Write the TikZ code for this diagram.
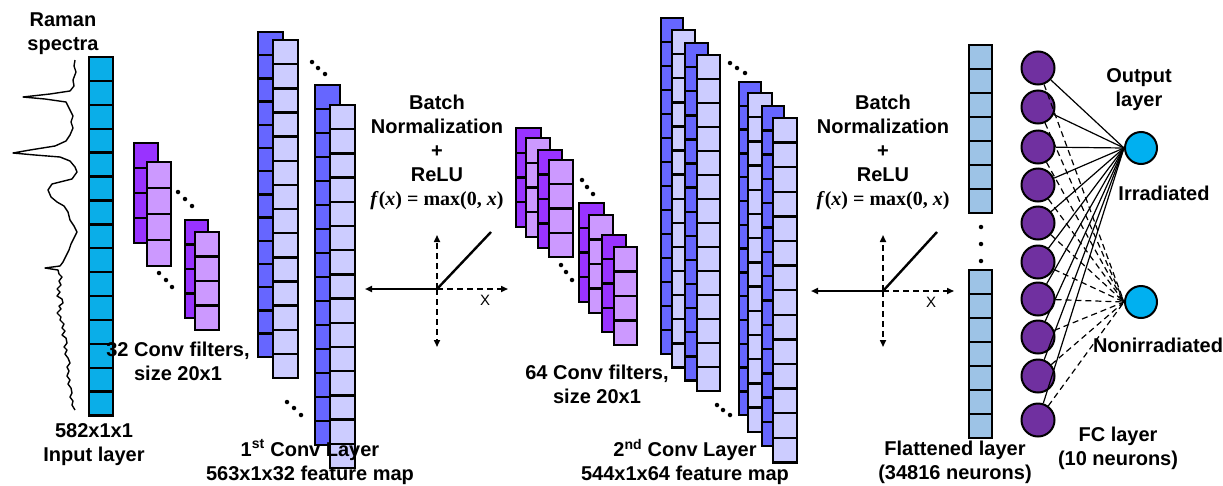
\documentclass[tikz,border=0pt]{standalone}
\usepackage{fontspec}
\setmainfont{Liberation Sans}
\newfontfamily\serifb{Liberation Serif}
\usetikzlibrary{arrows.meta}
\definecolor{inblue}{RGB}{10,174,232}
\definecolor{dpurp}{RGB}{153,51,255}
\definecolor{lpurp}{RGB}{204,153,255}
\definecolor{dblue}{RGB}{102,102,255}
\definecolor{lblue}{RGB}{204,204,255}
\definecolor{flatc}{RGB}{157,195,230}
\definecolor{fcpurp}{RGB}{112,48,160}
\definecolor{outblue}{RGB}{0,176,240}
\tikzset{
  cellline/.style={line width=2.4pt, line join=miter},
  txt/.style={font=\fontsize{20}{24}\selectfont\bfseries, align=center, inner sep=0pt},
  fc/.style={circle, draw=black, line width=2pt, fill=fcpurp, minimum size=33pt, inner sep=0pt},
  outn/.style={circle, draw=black, line width=2pt, fill=outblue, minimum size=32pt, inner sep=0pt},
  conn/.style={line width=1.2pt},
  dashconn/.style={line width=1.2pt, dash pattern=on 6pt off 4pt},
  axisline/.style={line width=1.6pt, dash pattern=on 6pt off 4pt, -{Triangle[length=7pt,width=6pt]}},
  solidax/.style={line width=2.4pt, -{Triangle[length=7pt,width=6pt]}},
  reluline/.style={line width=2.4pt},
  blackdot/.style={fill=black, circle, inner sep=0pt, minimum size=4.5pt},
  xlab/.style={font=\fontsize{15}{18}\selectfont, inner sep=0pt},
  formula/.style={font=\fontsize{20}{22}\selectfont\serifb\bfseries, inner sep=0pt},
}
\newcommand{\cellcol}[6]{%
  \fill[#6] (#1,#2) rectangle ({#1+#3},{#2+#4*#5});
  \pgfmathtruncatemacro{\cclast}{#5-1}
  \foreach \k in {1,...,\cclast}{\draw[cellline] (#1,{#2+\k*#4}) -- ({#1+#3},{#2+\k*#4});}
  \draw[cellline] (#1,#2) rectangle ({#1+#3},{#2+#4*#5});
}
\begin{document}
\begin{tikzpicture}[x=1pt,y=-1pt]
\useasboundingbox (0,0) rectangle (1223,485);
\fill[white] (0,0) rectangle (1223,485);

% ReLU graph A
\coordinate (oA) at (437,289);
\coordinate (tA) at (437,235);
\coordinate (bA) at (437,347);
\coordinate (lA) at (365,289);
\coordinate (rA) at (508,289);
\coordinate (dA) at (491,232);
\draw[axisline] (oA) -- (tA);
\draw[axisline] (oA) -- (bA);
\draw[axisline] (oA) -- (rA);
\draw[solidax] (oA) -- (lA);
\draw[reluline] (oA) -- (dA);
\node[xlab] (xA) at (485,300) {X};
\node[txt] (bnA) at (437,138) {Batch\\Normalization\\+\\ReLU};
\node[formula] (fA) at (437,201) {\textit{f}(\textit{x}) = max(0, \textit{x})};

% ReLU graph B
\coordinate (oB) at (883,291);
\coordinate (tB) at (883,235);
\coordinate (bB) at (883,347);
\coordinate (lB) at (811,291);
\coordinate (rB) at (954,291);
\coordinate (dB) at (937,232);
\draw[axisline] (oB) -- (tB);
\draw[axisline] (oB) -- (bB);
\draw[axisline] (oB) -- (rB);
\draw[solidax] (oB) -- (lB);
\draw[reluline] (oB) -- (dB);
\node[xlab] (xB) at (931,302) {X};
\node[txt] (bnB) at (883,138) {Batch\\Normalization\\+\\ReLU};
\node[formula] (fB) at (883,201) {\textit{f}(\textit{x}) = max(0, \textit{x})};

% Raman spectrum
\draw[line width=1.4pt, line join=round] (75,60) -- (74,66) -- (76,72) -- (73,80) -- (74,86) -- (70,91) -- (50,94) -- (23,97) -- (45,99) -- (66,102) -- (69,108) -- (73,116) -- (71,122) -- (73,128) -- (70,135) -- (66,141) -- (55,146) -- (30,150) -- (13,153) -- (35,155) -- (60,157) -- (70,161) -- (75,167) -- (77,172) -- (72,179) -- (60,182) -- (52,184) -- (48,190) -- (51,197) -- (57,202) -- (64,206) -- (68,212) -- (70,220) -- (74,226) -- (77,232) -- (74,238) -- (71,244) -- (69,250) -- (66,256) -- (63,262) -- (60,266) -- (45,268) -- (58,270) -- (59,274) -- (62,277) -- (59,281) -- (61,285) -- (57,289) -- (60,292) -- (57,296) -- (62,299) -- (63,303) -- (59,306) -- (61,309) -- (57,313) -- (61,317) -- (60,320) -- (64,324) -- (62,328) -- (65,331) -- (62,335) -- (66,338) -- (67,343) -- (64,347) -- (67,350) -- (65,354) -- (68,358) -- (70,363) -- (67,367) -- (69,371) -- (67,376) -- (70,380) -- (68,384) -- (71,388) -- (72,393) -- (70,397) -- (73,401) -- (72,405) -- (75,410);

% Input layer
\cellcol{89}{57}{24}{23.9}{15}{inblue}

% 32 conv filters
\cellcol{134}{143}{24}{25}{4}{dpurp}
\cellcol{147}{162}{24}{26}{4}{lpurp}
\cellcol{185}{220}{23}{24.5}{4}{dpurp}
\cellcol{195}{232}{24}{24.5}{4}{lpurp}
\node[blackdot] (d1) at (178,192) {};\node[blackdot] (d2) at (185,199) {};\node[blackdot] (d3) at (192,206) {};
\node[blackdot] (d4) at (159,273) {};\node[blackdot] (d5) at (166,280) {};\node[blackdot] (d6) at (172,287) {};

% 1st conv layer
\cellcol{258}{32}{25}{23.2}{14}{dblue}
\cellcol{273}{40}{25}{24.15}{14}{lblue}
\cellcol{315}{85}{25}{24}{15}{dblue}
\cellcol{330}{105}{25}{24.2}{15}{lblue}
\node[blackdot] (d7) at (312,62) {};\node[blackdot] (d8) at (318,68) {};\node[blackdot] (d9) at (325,74) {};
\node[blackdot] (d10) at (287,402) {};\node[blackdot] (d11) at (294,408) {};\node[blackdot] (d12) at (301,415) {};

% 64 conv filters
\cellcol{516}{128}{25}{24.75}{4}{dpurp}
\cellcol{526}{138}{24}{24.75}{4}{lpurp}
\cellcol{538}{150}{24}{24.5}{4}{dpurp}
\cellcol{549}{160}{24}{24.25}{4}{lpurp}
\cellcol{579}{203}{25}{24.75}{4}{dpurp}
\cellcol{589}{215}{24}{24.5}{4}{lpurp}
\cellcol{602}{235}{24}{24.25}{4}{dpurp}
\cellcol{614}{247}{23}{24.5}{4}{lpurp}
\node[blackdot] (d13) at (582,180) {};\node[blackdot] (d14) at (587,187) {};\node[blackdot] (d15) at (593,194) {};
\node[blackdot] (d16) at (561,265) {};\node[blackdot] (d17) at (566,272) {};\node[blackdot] (d18) at (572,280) {};

% 2nd conv layer
\cellcol{661}{18}{22}{24}{14}{dblue}
\cellcol{672}{30}{23}{24.1}{14}{lblue}
\cellcol{685}{43}{23}{24.1}{14}{dblue}
\cellcol{697}{55}{23}{24}{14}{lblue}
\cellcol{739}{82}{22}{23.8}{14}{dblue}
\cellcol{748}{93}{24}{24.2}{14}{lblue}
\cellcol{762}{106}{22}{24.3}{14}{dblue}
\cellcol{773}{118}{24}{24.6}{14}{lblue}
\node[blackdot] (d19) at (730,63) {};\node[blackdot] (d20) at (737,68) {};\node[blackdot] (d21) at (745,73) {};
\node[blackdot] (d22) at (717,405) {};\node[blackdot] (d23) at (723,410) {};\node[blackdot] (d24) at (730,415) {};

% Flattened layer
\cellcol{969}{45}{23}{24}{7}{flatc}
\cellcol{969}{270}{23}{24}{7}{flatc}
\node[blackdot] (d25) at (981,227) {};\node[blackdot] (d26) at (981,244) {};\node[blackdot] (d27) at (981,261) {};

% FC layer
\node[fc] (fc1) at (1038,68) {};
\node[fc] (fc2) at (1038,107) {};
\node[fc] (fc3) at (1038,147) {};
\node[fc] (fc4) at (1038,185) {};
\node[fc] (fc5) at (1038,223) {};
\node[fc] (fc6) at (1038,262) {};
\node[fc] (fc7) at (1038,299) {};
\node[fc] (fc8) at (1038,337) {};
\node[fc] (fc9) at (1038,376) {};
\node[fc] (fc10) at (1038,420) {};
\node[outn] (irr) at (1141,148) {};
\node[outn] (non) at (1141,302) {};
\foreach \i in {1,...,10}{
  \draw[conn] (fc\i) -- (irr.west);
  \draw[dashconn] (fc\i) -- (non.west);
}

% Labels
\node[txt] (lraman) at (63,34) {Raman\\spectra};
\node[txt] (linput) at (94,445) {582x1x1\\Input layer};
\node[txt] (lf32) at (178,361) {32 Conv filters,\\size 20x1};
\node[txt] (lc1) at (310,462) {1\textsuperscript{st} Conv Layer\\563x1x32 feature map};
\node[txt] (lf64) at (597,384) {64 Conv filters,\\size 20x1};
\node[txt] (lc2) at (685,462) {2\textsuperscript{nd} Conv Layer\\544x1x64 feature map};
\node[txt] (lflat) at (955,462) {Flattened layer\\{(34816 neurons)}};
\node[txt] (lout) at (1139,90) {Output\\layer};
\node[txt] (lirr) at (1164,193) {Irradiated};
\node[txt] (lnon) at (1158,345) {Nonirradiated};
\node[txt] (lfc) at (1118,448) {FC layer\\{(10 neurons)}};
\end{tikzpicture}
\end{document}
